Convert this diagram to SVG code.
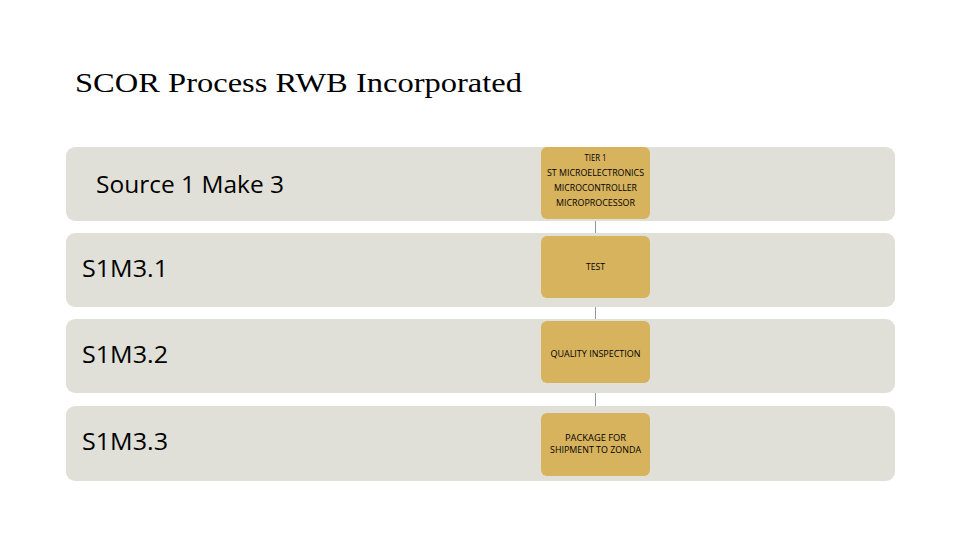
<svg xmlns="http://www.w3.org/2000/svg" width="960" height="540" viewBox="0 0 960 540">
<style>
.band{fill:#e0e0d8;}
.gold{fill:#d8b35e;}
.title{font-family:"Liberation Serif",serif;font-size:28px;fill:#000;}
.lbl{font-family:"Open Sans","Liberation Sans",sans-serif;font-size:23px;fill:#000;}
.sm{font-family:"Open Sans","Liberation Sans",sans-serif;font-size:8.8px;fill:#000;text-anchor:middle;}
.conn{stroke:#8a97a8;stroke-width:1;fill:none;}
</style>
<rect width="960" height="540" fill="#ffffff"/>
<text class="title" x="75" y="92" textLength="447" lengthAdjust="spacingAndGlyphs">SCOR Process RWB Incorporated</text>
<g id="connectors">
<line class="conn" x1="595.500" y1="219" x2="595.500" y2="236"/>
<line class="conn" x1="595.500" y1="298" x2="595.500" y2="321"/>
<line class="conn" x1="595.500" y1="383" x2="595.500" y2="413"/>
</g>
<g id="row0">
<rect class="band" x="66" y="147" width="829" height="74" rx="9"/>
<text class="lbl" x="96" y="193" textLength="188" lengthAdjust="spacingAndGlyphs">Source 1 Make 3</text>
</g>
<g id="row1">
<rect class="band" x="66" y="233" width="829" height="74" rx="9"/>
<text class="lbl" x="82" y="277" textLength="86" lengthAdjust="spacingAndGlyphs">S1M3.1</text>
</g>
<g id="row2">
<rect class="band" x="66" y="319" width="829" height="74" rx="9"/>
<text class="lbl" x="82" y="363" textLength="86" lengthAdjust="spacingAndGlyphs">S1M3.2</text>
</g>
<g id="row3">
<rect class="band" x="66" y="406" width="829" height="75" rx="9"/>
<text class="lbl" x="82" y="450" textLength="86" lengthAdjust="spacingAndGlyphs">S1M3.3</text>
</g>
<g id="tier1">
<rect class="gold" x="541" y="147" width="109" height="72" rx="6"/>
<text class="sm" x="595.500" y="161" textLength="22" lengthAdjust="spacingAndGlyphs">TIER 1</text>
<text class="sm" x="595.500" y="176" textLength="97" lengthAdjust="spacingAndGlyphs">ST MICROELECTRONICS</text>
<text class="sm" x="595.500" y="191" textLength="83" lengthAdjust="spacingAndGlyphs">MICROCONTROLLER</text>
<text class="sm" x="595.500" y="206" textLength="79" lengthAdjust="spacingAndGlyphs">MICROPROCESSOR</text>
</g>
<g id="test">
<rect class="gold" x="541" y="236" width="109" height="62" rx="6"/>
<text class="sm" x="595.500" y="270" textLength="19" lengthAdjust="spacingAndGlyphs">TEST</text>
</g>
<g id="qi">
<rect class="gold" x="541" y="321" width="109" height="62" rx="6"/>
<text class="sm" x="595.500" y="357" textLength="90" lengthAdjust="spacingAndGlyphs">QUALITY INSPECTION</text>
</g>
<g id="pkg">
<rect class="gold" x="541" y="413" width="109" height="63" rx="6"/>
<text class="sm" x="595.500" y="441" textLength="61" lengthAdjust="spacingAndGlyphs">PACKAGE  FOR</text>
<text class="sm" x="595.500" y="453" textLength="91" lengthAdjust="spacingAndGlyphs">SHIPMENT TO ZONDA</text>
</g>
</svg>
